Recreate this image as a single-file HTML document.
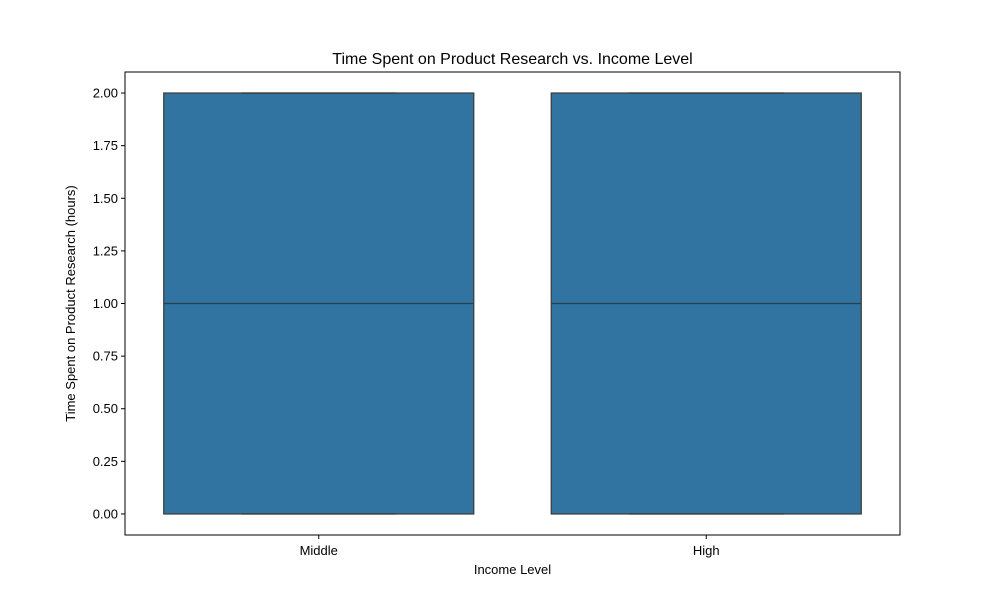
<!DOCTYPE html>
<html><head><meta charset="utf-8"><style>
body{margin:0;background:#fff;}
svg text{font-family:"Liberation Sans","DejaVu Sans",sans-serif;fill:#000;}
</style></head><body>
<svg width="1000" height="600" xmlns="http://www.w3.org/2000/svg">
<rect width="1000" height="600" fill="#fff"/>
<text x="512.5" y="64" font-size="16" text-anchor="middle">Time Spent on Product Research vs. Income Level</text>
<g id="plot"></g>
<rect x="125" y="72" width="775" height="463" fill="none" stroke="#000" stroke-width="1"/>
<text x="512.5" y="574" font-size="13" text-anchor="middle">Income Level</text>
<text transform="translate(75,303.5) rotate(-90)" font-size="13" text-anchor="middle">Time Spent on Product Research (hours)</text>
</svg>
<script>
const categories = ["Middle","High"];
const q1 = [0,0];
const medians = [1,1];
const q3 = [2,2];
const whiskLo = [0,0];
const whiskHi = [2,2];
const yTicks = [0,0.25,0.5,0.75,1,1.25,1.5,1.75,2];
const yTickLabels = ["0.00","0.25","0.50","0.75","1.00","1.25","1.50","1.75","2.00"];

const L=125,R=900,T=72,B=535,ymin=-0.1,ymax=2.1;
const y=v=>B-(v-ymin)/(ymax-ymin)*(B-T);
const x=i=>L+(i+0.5)/categories.length*(R-L);
const bw=(R-L)/categories.length*0.8;
const NS="http://www.w3.org/2000/svg";
const g=document.getElementById('plot');
function mk(t,a){const e=document.createElementNS(NS,t);for(const k in a)e.setAttribute(k,a[k]);g.appendChild(e);return e;}
yTicks.forEach((v,i)=>{
  const l=mk('line',{x1:L-4,x2:L,y1:y(v),y2:y(v),stroke:'#000'});
  
  
  const t=mk('text',{x:L-7,y:y(v)+4.5,'font-size':13,'text-anchor':'end'});
  t.textContent=yTickLabels[i];
  
  
});
categories.forEach((c,i)=>{
  const cx=x(i);
  const w1=mk('line',{x1:cx,x2:cx,y1:y(q3[i]),y2:y(whiskHi[i]),stroke:'#3f3f3f','stroke-width':1.3});
  
  
  const w2=mk('line',{x1:cx,x2:cx,y1:y(q1[i]),y2:y(whiskLo[i]),stroke:'#3f3f3f','stroke-width':1.3});
  
  
  const box=mk('rect',{x:cx-bw/2,y:y(q3[i]),width:bw,height:y(q1[i])-y(q3[i]),fill:'#3274a1',stroke:'#3f3f3f','stroke-width':1.3});
  
  
  const c1=mk('line',{x1:cx-bw/4,x2:cx+bw/4,y1:y(whiskHi[i]),y2:y(whiskHi[i]),stroke:'#3f3f3f','stroke-width':1.3});
  
  
  const c2=mk('line',{x1:cx-bw/4,x2:cx+bw/4,y1:y(whiskLo[i]),y2:y(whiskLo[i]),stroke:'#3f3f3f','stroke-width':1.3});
  
  
  const m=mk('line',{x1:cx-bw/2,x2:cx+bw/2,y1:y(medians[i]),y2:y(medians[i]),stroke:'#2a3f4f','stroke-width':1.3});
  
  
  const tk=mk('line',{x1:cx,x2:cx,y1:B,y2:B+4,stroke:'#000'});
  
  
  const t=mk('text',{x:cx,y:B+20,'font-size':13,'text-anchor':'middle'});
  t.textContent=c;
  
  
});
</script>
</body></html>
